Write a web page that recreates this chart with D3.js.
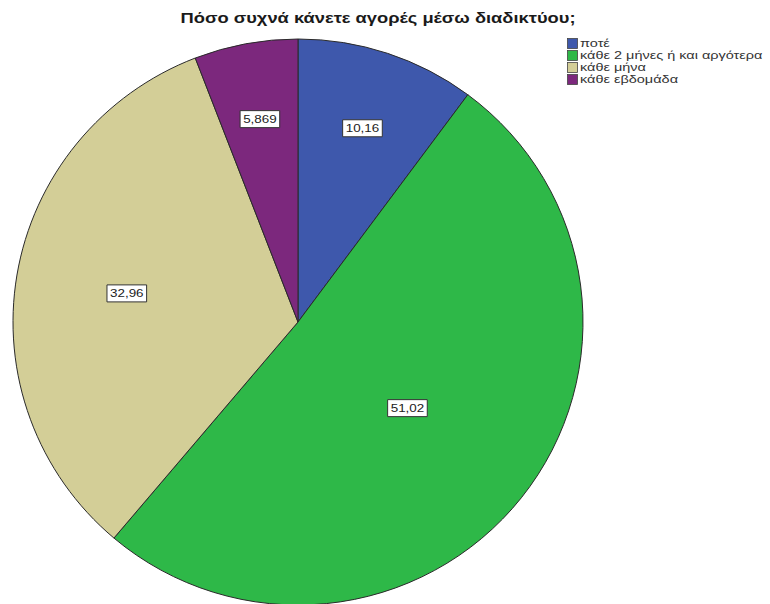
<!DOCTYPE html>
<html>
<head>
<meta charset="utf-8">
<script src="https://cdn.jsdelivr.net/npm/d3@7"></script>
<style>
  body { margin: 0; background: #fff; }
  svg { display: block; font-family: "Liberation Sans", Arial, sans-serif; }
</style>
</head>
<body>
<svg id="chart" width="770" height="604"></svg>
<script>
// Survey answers (percent of respondents)
const categories = ["ποτέ", "κάθε 2 μήνες ή και αργότερα", "κάθε μήνα", "κάθε εβδομάδα"];
const percentages = [10.16, 51.02, 32.96, 5.869];
const valueLabels = ["10,16", "51,02", "32,96", "5,869"];
const colors = ["#3E58AC", "#2EB848", "#D3CE97", "#7C287D"];
const chartTitle = "Πόσο συχνά κάνετε αγορές μέσω διαδικτύου;";

const svg = d3.select("#chart");

// pie geometry
const cx = 298, cy = 322, rx = 285, ry = 283;
const R = 283;
// text in this chart is drawn somewhat wide
const textStretch = 1.22;

const color = d3.scaleOrdinal().domain(categories).range(colors);

const pie = d3.pie().sort(null).value(d => d.value);
const arcs = pie(categories.map((c, i) => ({ cat: c, value: percentages[i], label: valueLabels[i] })));
const arc = d3.arc().innerRadius(0).outerRadius(R);

// title
svg.append("text")
  .attr("x", 378).attr("y", 23)
  .attr("text-anchor", "middle")
  .attr("font-size", 15).attr("font-weight", "bold")
  .attr("textLength", 395).attr("lengthAdjust", "spacingAndGlyphs")
  .attr("fill", "#1a1a1a")
  .text(chartTitle);

const g = svg.append("g")
  .attr("transform", `translate(${cx},${cy}) scale(${rx / R},${ry / R})`);

g.selectAll("path.slice")
  .data(arcs)
  .join("path")
  .attr("class", "slice")
  .attr("d", arc)
  .attr("fill", d => color(d.data.cat))
  .attr("stroke", "#2a2a2a")
  .attr("stroke-width", 1)
  .attr("vector-effect", "non-scaling-stroke");

// value labels placed near each slice's centroid
const lbl = svg.append("g").attr("transform", `translate(${cx},${cy})`);
arcs.forEach(d => {
  const theta = d.endAngle - d.startAngle;
  const mid = (d.startAngle + d.endAngle) / 2;
  const frac = Math.max(0.49, 1.1 * 4 * Math.sin(theta / 2) / (3 * theta));
  const x = Math.sin(mid) * frac * rx;
  const y = -Math.cos(mid) * frac * ry;
  const gg = lbl.append("g").attr("transform", `translate(${x},${y}) scale(${textStretch},1)`);
  const rect = gg.append("rect");
  const t = gg.append("text")
    .attr("text-anchor", "middle")
    .attr("dy", "0.35em")
    .attr("font-size", 11)
    .attr("fill", "#222")
    .text(d.data.label);
  const w = t.node().getComputedTextLength() + 5;
  const h = 17;
  rect.attr("x", -w / 2).attr("y", -h / 2).attr("width", w).attr("height", h)
    .attr("fill", "#fff").attr("stroke", "#333").attr("stroke-width", 1)
    .attr("vector-effect", "non-scaling-stroke");
});

// legend
const legend = svg.append("g").attr("transform", "translate(567,38)");
const rowH = 12;
categories.forEach((c, i) => {
  const row = legend.append("g").attr("transform", `translate(0,${i * rowH})`);
  row.append("rect")
    .attr("x", 0.5).attr("y", 0.5).attr("width", 10).attr("height", 10)
    .attr("fill", color(c)).attr("stroke", "#444").attr("stroke-width", 0.8);
  row.append("text")
    .attr("transform", `translate(13,9) scale(1.45,1)`)
    .attr("font-size", 10).attr("fill", "#333")
    .text(c);
});
</script>
</body>
</html>
